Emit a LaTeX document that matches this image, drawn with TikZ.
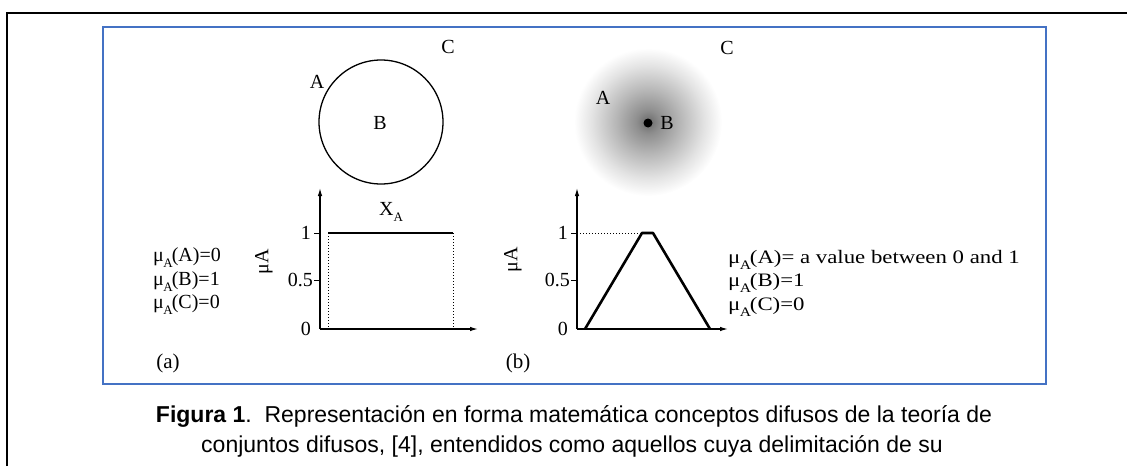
\documentclass[tikz,border=0pt]{standalone}
\usepackage{fontspec}
\setmainfont{Liberation Serif}
\newfontfamily\capfont{Liberation Sans}
\usetikzlibrary{arrows.meta}
\definecolor{frameblue}{RGB}{68,114,196}
\pgfdeclareradialshading{fuzzyblob}{\pgfpoint{0bp}{0bp}}{%
  color(0bp)=(black!58); color(4bp)=(black!44); color(11bp)=(black!28); color(19bp)=(black!11); color(25bp)=(white); color(50bp)=(white)}
\newcommand{\muA}[1]{μ\kern-0.5pt\raisebox{-6pt}{\fontsize{13}{13}\selectfont A}\kern-1pt(#1)}
\tikzset{
  lbl/.style={font=\fontsize{20}{22}\selectfont, inner sep=0pt},
  axis/.style={-{Latex[length=8pt,width=4.5pt]}, line width=1.2pt},
  guide/.style={dotted, line width=1pt},
  curve/.style={line width=2.6pt}
}

\begin{document}
\begin{tikzpicture}[
    x=1pt, y=-1pt,
    tick/.style={line width=0.8pt},
    capline/.style={font=\capfont\fontsize{23}{26}\selectfont, inner sep=0pt}
  ]
  \useasboundingbox (0,0) rectangle (1127,466);

  % outer page frame and blue figure frame
  \draw[line width=1.5pt] (7,466) -- (7,13) -- (1127,13);
  \draw[frameblue, line width=2pt] (103,27) rectangle (1046,384);

  % (a) crisp set
  \draw[line width=1.3pt] (381,122) circle (62);
  \node[lbl] (ca) at (317,82) {A};
  \node[lbl] (cb) at (380,123) {B};
  \node[lbl] (cc) at (448,47) {C};

  \coordinate (oa) at (320,329);
  \draw[axis] (oa) -- (320,188);
  \draw[axis] (oa) -- (478,329);
  \draw[tick] (314,233) -- (320,233);
  \draw[tick] (314,280) -- (320,280);
  \node[lbl, anchor=east] (a1) at (311,233) {1};
  \node[lbl, anchor=east] (a05) at (313,280) {0.5};
  \node[lbl, anchor=east] (a0) at (311,329) {0};
  \node[lbl, rotate=90] (amu) at (264,262) {μA};
  \draw[guide] (328,233) -- (328,329);
  \draw[guide] (453,233) -- (453,329);
  \draw[curve] (328,233) -- (453,233);
  \node[lbl] (xa) at (391,212) {X\raisebox{-6pt}{\fontsize{13}{13}\selectfont A}};

  \node[lbl, anchor=west] (ma) at (153,258) {\muA{A}=0};
  \node[lbl, anchor=west] (mb) at (153,282) {\muA{B}=1};
  \node[lbl, anchor=west] (mc) at (153,305) {\muA{C}=0};
  \node[lbl, font=\fontsize{21}{22}\selectfont] (la) at (168,363) {(a)};

  % (b) fuzzy set
  \shade[shading=fuzzyblob] (648,122) circle (74);
  \fill (648,123) circle (4.5);
  \node[lbl] (fa) at (603,98) {A};
  \node[lbl] (fb) at (667,123) {B};
  \node[lbl] (fc) at (727,48) {C};

  \coordinate (ob) at (577,329);
  \draw[axis] (ob) -- (577,188);
  \draw[axis] (ob) -- (728,329);
  \draw[tick] (571,233) -- (577,233);
  \draw[tick] (571,280) -- (577,280);
  \node[lbl, anchor=east] (b1) at (568,233) {1};
  \node[lbl, anchor=east] (b05) at (570,280) {0.5};
  \node[lbl, anchor=east] (b0) at (568,329) {0};
  \node[lbl, rotate=90] (bmu) at (513,260) {μA};
  \draw[guide] (577,233) -- (642,233);
  \draw[curve, line join=round] (585,329) -- (642,233) -- (653,233) -- (710,329);

  \node[lbl, anchor=west, font=\fontsize{19}{20}\selectfont, xscale=1.2] (na) at (728,260)
  {\muA{A}= a value between 0 and 1};
  \node[lbl, anchor=west, font=\fontsize{19}{20}\selectfont, xscale=1.2] (nb) at (728,283) {\muA{B}=1};
  \node[lbl, anchor=west, font=\fontsize{19}{20}\selectfont, xscale=1.2] (nc) at (728,307) {\muA{C}=0};
  \node[lbl, font=\fontsize{21}{22}\selectfont] (lb) at (518,363) {(b)};

  % caption
  \node[capline] (cap1) at (574,416)
  {\textbf{Figura 1}.\ \ Representación en forma matemática conceptos difusos de la teoría de};
  \node[capline] (cap2) at (572,446)
  {conjuntos difusos, [4], entendidos como aquellos cuya delimitación de su};
\end{tikzpicture}
\end{document}
